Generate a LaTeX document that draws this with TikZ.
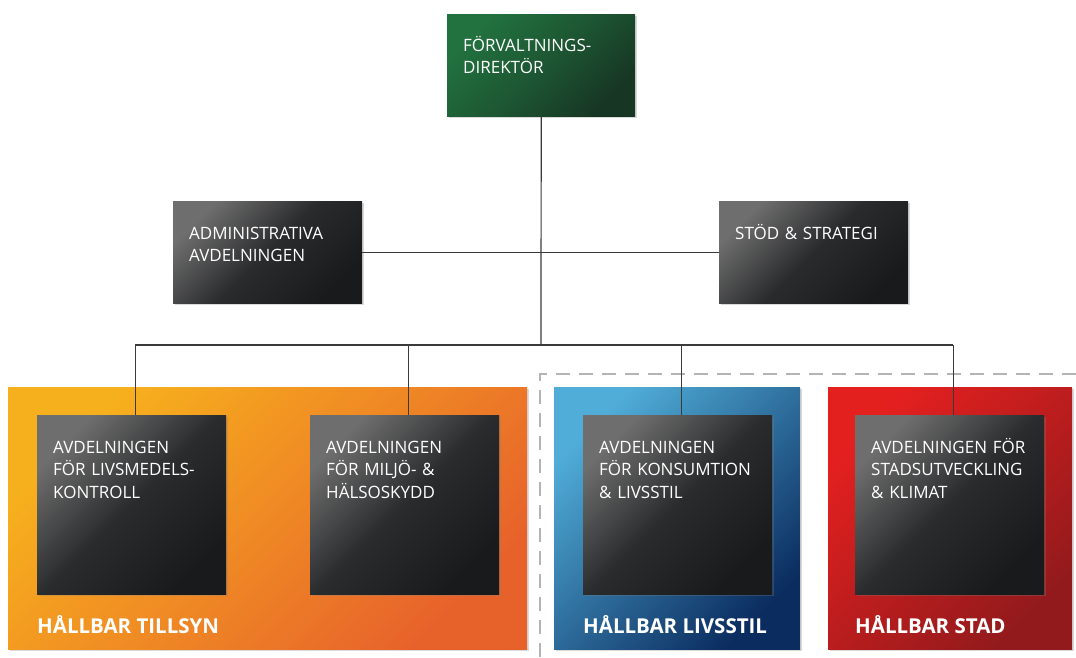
\documentclass[tikz,border=0pt]{standalone}
\usepackage{fontspec}
\setmainfont{Open Sans}
\usetikzlibrary{positioning, shadows}

\definecolor{gronljus}{HTML}{22723F}
\definecolor{gronmork}{HTML}{173624}
\definecolor{grafljus}{HTML}{6E6E6E}
\definecolor{grafmitt}{HTML}{2A2B2D}
\definecolor{grafmork}{HTML}{181A1C}
\definecolor{orangeljus}{HTML}{F7B01D}
\definecolor{orangemork}{HTML}{E7622B}
\definecolor{blaljus}{HTML}{50ADD8}
\definecolor{blamork}{HTML}{0B2C5F}
\definecolor{rodljus}{HTML}{E4201F}
\definecolor{rodmork}{HTML}{921A1C}
\definecolor{linjefarg}{HTML}{3A3A3A}
\definecolor{strekfarg}{HTML}{B4B4B4}

\tikzset{
  ruta/.style 2 args={anchor=north west, inner sep=0pt, top color=#1, bottom color=#2,
    shading angle=45, drop shadow={opacity=0.3, shadow xshift=2pt, shadow yshift=-2pt}},
  mork/.style={ruta={grafljus}{grafmork}, middle color=grafmitt,
    minimum width=189pt, minimum height=179pt},
  rutatext/.style={anchor=base west, inner sep=0pt, text=white, align=left,
    text width=172pt, font=\fontsize{17}{22.5}\selectfont},
  grupptext/.style={anchor=base west, inner sep=0pt, text=white,
    font=\fontsize{20.5}{22}\selectfont\bfseries},
  linje/.style={draw=linjefarg, line width=1.2pt},
  streckad/.style={draw=strekfarg, line width=2pt, dash pattern=on 14pt off 9pt}
}

\begin{document}
\begin{tikzpicture}[x=1pt, y=-1pt]
    % Ram
    \useasboundingbox (0,0) rectangle (1076,657);
    \draw[streckad] (540,657) |- (1076,374);
    % Grupper
    \node[ruta={orangeljus}{orangemork}, minimum width=519pt, minimum height=262pt] (tillsyn) at (8,387) {};
    \node[ruta={blaljus}{blamork}, minimum width=246pt, minimum height=262pt] (livsstil) at (554,387) {};
    \node[ruta={rodljus}{rodmork}, minimum width=244pt, minimum height=262pt] (stad) at (828,387) {};
    % Ledning
    \node[ruta={gronljus}{gronmork}, middle color=gronljus!55!gronmork, minimum width=188pt, minimum height=102pt] (dir) at (447,14) {};
    \node[ruta={grafljus}{grafmork}, middle color=grafmitt, minimum width=189pt, minimum height=102pt] (adm) at (173,201) {};
    \node[ruta={grafljus}{grafmork}, middle color=grafmitt, minimum width=189pt, minimum height=102pt] (stod) at (719,201) {};
    \coordinate (buss) at (541,345);
    % Avdelningar
    \node[mork] (k1) at (37,415) {};
    \node[mork] (k2) at (310,415) {};
    \node[mork] (k3) at (583,415) {};
    \node[mork] (k4) at (855,415) {};
    % Linjer
    \draw[linje] (dir.south) -- (buss);
    \draw[linje] (adm.east) -- (stod.west);
    \draw[linje] ([xshift=3.5pt]k1.north |- buss) -- ([xshift=3.5pt]k4.north |- buss);
    \foreach \k in {k1,k2,k3,k4}
        \draw[linje] ([xshift=3.5pt]\k.north) -- ([xshift=3.5pt]\k.north |- buss);
    % Texter
    \node[rutatext] (t_dir) at ([shift={(16,37)}]dir.north west) {FÖRVALTNINGS-\\DIREKTÖR};
    \node[rutatext] (t_adm) at ([shift={(16,38)}]adm.north west) {ADMINISTRATIVA\\AVDELNINGEN};
    \node[rutatext] (t_stod) at ([shift={(16,38)}]stod.north west) {STÖD \& STRATEGI};
    \node[rutatext] (t_k1) at ([shift={(16,38)}]k1.north west) {AVDELNINGEN\\FÖR LIVSMEDELS-\\KONTROLL};
    \node[rutatext] (t_k2) at ([shift={(16,38)}]k2.north west) {AVDELNINGEN\\FÖR MILJÖ- \&\\HÄLSOSKYDD};
    \node[rutatext] (t_k3) at ([shift={(16,38)}]k3.north west) {AVDELNINGEN\\FÖR KONSUMTION\\\& LIVSSTIL};
    \node[rutatext] (t_k4) at ([shift={(16,38)}]k4.north west) {AVDELNINGEN FÖR\\STADSUTVECKLING\\\& KLIMAT};
    \node[grupptext] (t_tillsyn) at ([shift={(0,39)}]k1.south west) {HÅLLBAR TILLSYN};
    \node[grupptext] (t_livsstil) at ([shift={(0,39)}]k3.south west) {HÅLLBAR LIVSSTIL};
    \node[grupptext] (t_stad) at ([shift={(0,39)}]k4.south west) {HÅLLBAR STAD};
\end{tikzpicture}
\end{document}
